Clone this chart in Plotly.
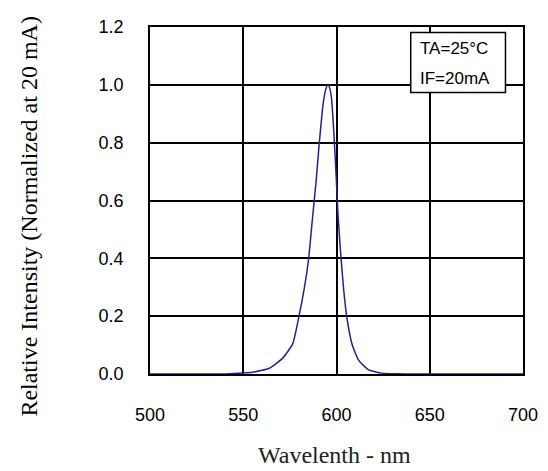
import plotly.graph_objects as go

wavelength = [500, 540, 548, 555, 564, 571, 576.5, 579.7, 582.7, 585, 587, 589.2, 590.6,
              592.4, 593.6, 594.5, 595.4, 596.3, 597.3, 598.6, 599.8, 600.8, 602.1, 603.8,
              605.6, 608.3, 611.8, 617.1, 624.2, 633, 640, 700]
intensity = [0, 0, 0.003, 0.006, 0.02, 0.054, 0.104, 0.194, 0.295, 0.395, 0.53, 0.676, 0.787,
             0.91, 0.966, 0.99, 1.0, 0.99, 0.955, 0.832, 0.686, 0.552, 0.429, 0.295,
             0.194, 0.104, 0.048, 0.015, 0.003, 0.001, 0, 0]
x_ticks = [500, 550, 600, 650, 700]
y_ticks = [0.0, 0.2, 0.4, 0.6, 0.8, 1.0, 1.2]
y_tick_labels = ["0.0", "0.2", "0.4", "0.6", "0.8", "1.0", "1.2"]
legend_lines = ["TA=25°C", "IF=20mA"]

fig = go.Figure()
fig.add_trace(go.Scatter(x=wavelength, y=intensity, mode="lines",
                         line=dict(color="#22228f", width=1.5, shape="spline", smoothing=0.5),
                         showlegend=False))

tickfont = dict(family="Liberation Sans, Arial", size=18, color="black")
fig.update_layout(
    width=540, height=463,
    margin=dict(l=141.5, r=22, t=9.7, b=96.7),
    paper_bgcolor="white", plot_bgcolor="white",
    xaxis=dict(range=[500, 700], tickvals=x_ticks, showgrid=True, gridcolor="black",
               gridwidth=1.5, showline=True, linecolor="black", linewidth=1.5, mirror=True,
               zeroline=False, tickfont=tickfont, ticks="", ticklabelstandoff=24),
    yaxis=dict(range=[0, 1.2], tickvals=y_ticks, ticktext=y_tick_labels, showgrid=True,
               gridcolor="black", gridwidth=1.5, showline=True, linecolor="black",
               linewidth=1.5, mirror=True, zeroline=False, tickfont=tickfont, ticks="",
               ticklabelstandoff=21),
)

fig.add_annotation(text="Relative Intensity (Normalized at 20 mA)", xref="paper", yref="paper",
                   x=0, y=0.455, xshift=-120.5, textangle=-90, showarrow=False,
                   xanchor="center", yanchor="middle",
                   font=dict(family="Liberation Serif, Times New Roman", size=24, color="black"))
fig.add_annotation(text="Wavelenth - nm", xref="paper", yref="paper",
                   x=0.495, y=0, yshift=-81, showarrow=False,
                   xanchor="center", yanchor="middle",
                   font=dict(family="Liberation Serif, Times New Roman", size=24, color="#222"))

fig.add_shape(type="rect", xref="paper", yref="paper", x0=0.699, x1=0.953, y0=0.811, y1=0.984,
              line=dict(color="black", width=1.5), fillcolor="white", layer="above")
for txt, yy in zip(legend_lines, [0.938, 0.853]):
    fig.add_annotation(text=txt, xref="paper", yref="paper", x=0.719, y=yy, showarrow=False,
                       xanchor="left", yanchor="middle",
                       font=dict(family="Liberation Sans, Arial", size=17, color="black"))

fig.write_html("out.html")
